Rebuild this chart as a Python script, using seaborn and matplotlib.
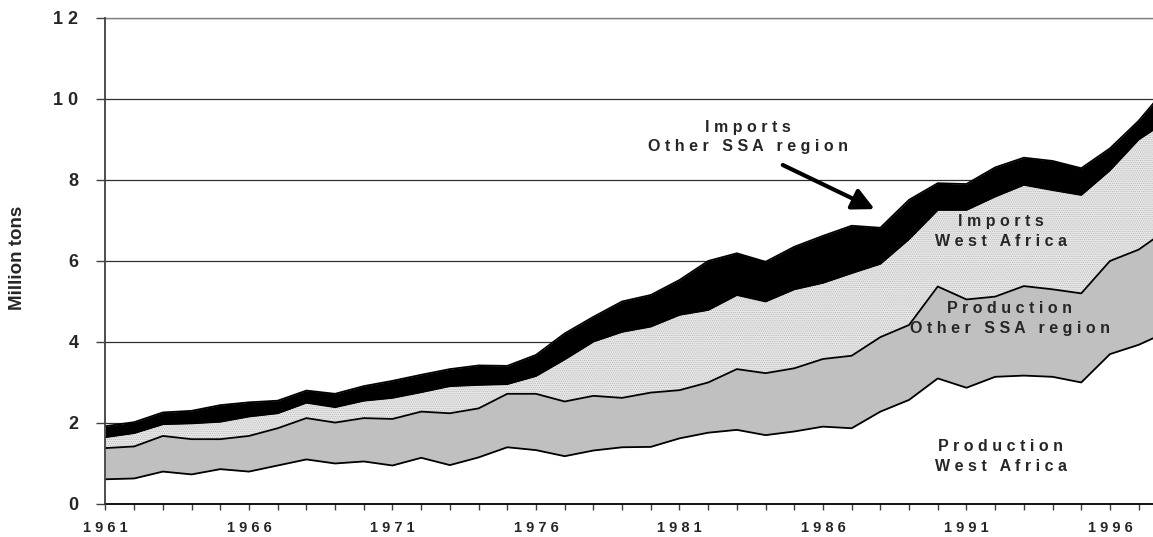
import seaborn as sns
import matplotlib.pyplot as plt
import numpy as np
import pandas as pd

sns.set_theme(style="white")
plt.rcParams['font.family'] = ['Liberation Sans', 'DejaVu Sans']
plt.rcParams['hatch.linewidth'] = 0.5

years = list(range(1961, 1999))

# million tons (layers from bottom to top)
prod_west_africa = [0.61, 0.63, 0.80, 0.73, 0.86, 0.80, 0.95, 1.10, 1.00, 1.05,
                    0.95, 1.14, 0.96, 1.15, 1.40, 1.33, 1.18, 1.32, 1.40, 1.41,
                    1.62, 1.76, 1.83, 1.70, 1.79, 1.91, 1.87, 2.28, 2.57, 3.10,
                    2.87, 3.14, 3.17, 3.14, 3.00, 3.70, 3.93, 4.25]
prod_other_ssa = [0.77, 0.79, 0.88, 0.87, 0.74, 0.88, 0.92, 1.02, 1.01, 1.07,
                  1.15, 1.14, 1.28, 1.21, 1.32, 1.39, 1.35, 1.35, 1.22, 1.34,
                  1.19, 1.24, 1.50, 1.53, 1.56, 1.67, 1.79, 1.84, 1.85, 2.27,
                  2.18, 1.98, 2.21, 2.16, 2.20, 2.30, 2.35, 2.53]
imp_west_africa = [0.27, 0.33, 0.29, 0.39, 0.43, 0.48, 0.37, 0.38, 0.38, 0.43,
                   0.52, 0.48, 0.67, 0.58, 0.24, 0.44, 1.04, 1.34, 1.63, 1.63,
                   1.86, 1.79, 1.83, 1.77, 1.95, 1.88, 2.04, 1.81, 2.12, 1.89,
                   2.21, 2.47, 2.50, 2.45, 2.43, 2.24, 2.72, 2.69]
imp_other_ssa = [0.27, 0.27, 0.29, 0.31, 0.41, 0.35, 0.31, 0.30, 0.33, 0.36,
                 0.42, 0.43, 0.42, 0.48, 0.45, 0.52, 0.64, 0.61, 0.75, 0.78,
                 0.86, 1.21, 1.03, 0.98, 1.05, 1.16, 1.17, 0.89, 0.97, 0.66,
                 0.64, 0.72, 0.67, 0.72, 0.66, 0.54, 0.46, 0.83]

layer_names = ["Production West Africa", "Production Other SSA region",
               "Imports West Africa", "Imports Other SSA region"]
layer_colors = ["white", "#c0c0c0", "#e8e8e8", "black"]
label_years = [1961, 1966, 1971, 1976, 1981, 1986, 1991, 1996]


def spaced(s):
    return ' '.join(s)


layers = np.array([prod_west_africa, prod_other_ssa, imp_west_africa, imp_other_ssa])
cum = np.cumsum(layers, axis=0)

df = pd.DataFrame({'year': np.tile(years, 4),
                   'level': cum.ravel(),
                   'edge': np.repeat(layer_names, len(years))})

fig = plt.figure(figsize=(11.53, 5.37), dpi=100)
ax = fig.add_axes([0.0915, 0.0615, 0.9085, 0.905])

polys = ax.stackplot(years, layers, colors=layer_colors, linewidth=0, zorder=2)
polys[2].set_hatch('........')
polys[2].set_edgecolor('#b4b4b4')
polys[2].set_linewidth(0)

sns.lineplot(data=df, x='year', y='level', hue='edge',
             palette={n: 'black' for n in layer_names}, legend=False,
             linewidth=1.3, ax=ax, zorder=3)

ax.set_xlim(1961, 1997.5)
ax.set_ylim(0, 12)
ax.set_yticks(range(0, 13, 2))
ax.set_yticklabels([spaced(str(v)) for v in range(0, 13, 2)],
                   fontsize=13, fontweight='bold')
ax.set_xticks(years[:-1])
ax.set_xticklabels([spaced(str(y)) if y in label_years else '' for y in years[:-1]],
                   fontsize=10.5, fontweight='bold')
ax.tick_params(axis='y', direction='out', length=6.5, width=1, color='#404040',
               pad=13, left=True)
ax.tick_params(axis='x', direction='out', length=4.5, width=1, color='#404040',
               pad=8, bottom=True)
ax.grid(axis='y', color='#303030', linewidth=0.9, zorder=1)
ax.axhline(12, color='#808080', linewidth=1, clip_on=False, zorder=1)
ax.set_axisbelow(True)
ax.set_xlabel('')
ax.set_ylabel('')
for side in ['top', 'right']:
    ax.spines[side].set_visible(False)
ax.spines['left'].set_color('#404040')
ax.spines['left'].set_linewidth(1.3)
ax.spines['bottom'].set_color('black')
ax.spines['bottom'].set_linewidth(1.3)
ax.spines['left'].set_zorder(5)

fig.text(18 / 1153, 1 - 258 / 537, 'Million tons', rotation=90, fontsize=13.5,
         fontweight='bold', ha='center', va='center')

txt = dict(fontsize=11.5, fontweight='bold', ha='center', va='center',
           linespacing=1.4, zorder=6)
ax.text(1983.4, 9.06, spaced('Imports') + '\n' + spaced('Other SSA region'), **txt)
ax.text(1992.2, 6.72, spaced('Imports') + '\n' + spaced('West Africa'), **txt)
ax.text(1992.5, 4.58, spaced('Production') + '\n' + spaced('Other SSA region'), **txt)
ax.text(1992.2, 1.17, spaced('Production') + '\n' + spaced('West Africa'), **txt)

ax.annotate('', xy=(1987.8, 7.28), xytext=(1984.6, 8.37),
            arrowprops=dict(arrowstyle='-|>,head_length=1.1,head_width=0.55',
                            color='black', lw=3, shrinkA=0, shrinkB=0),
            zorder=6)

plt.savefig('out.png', dpi=100)
